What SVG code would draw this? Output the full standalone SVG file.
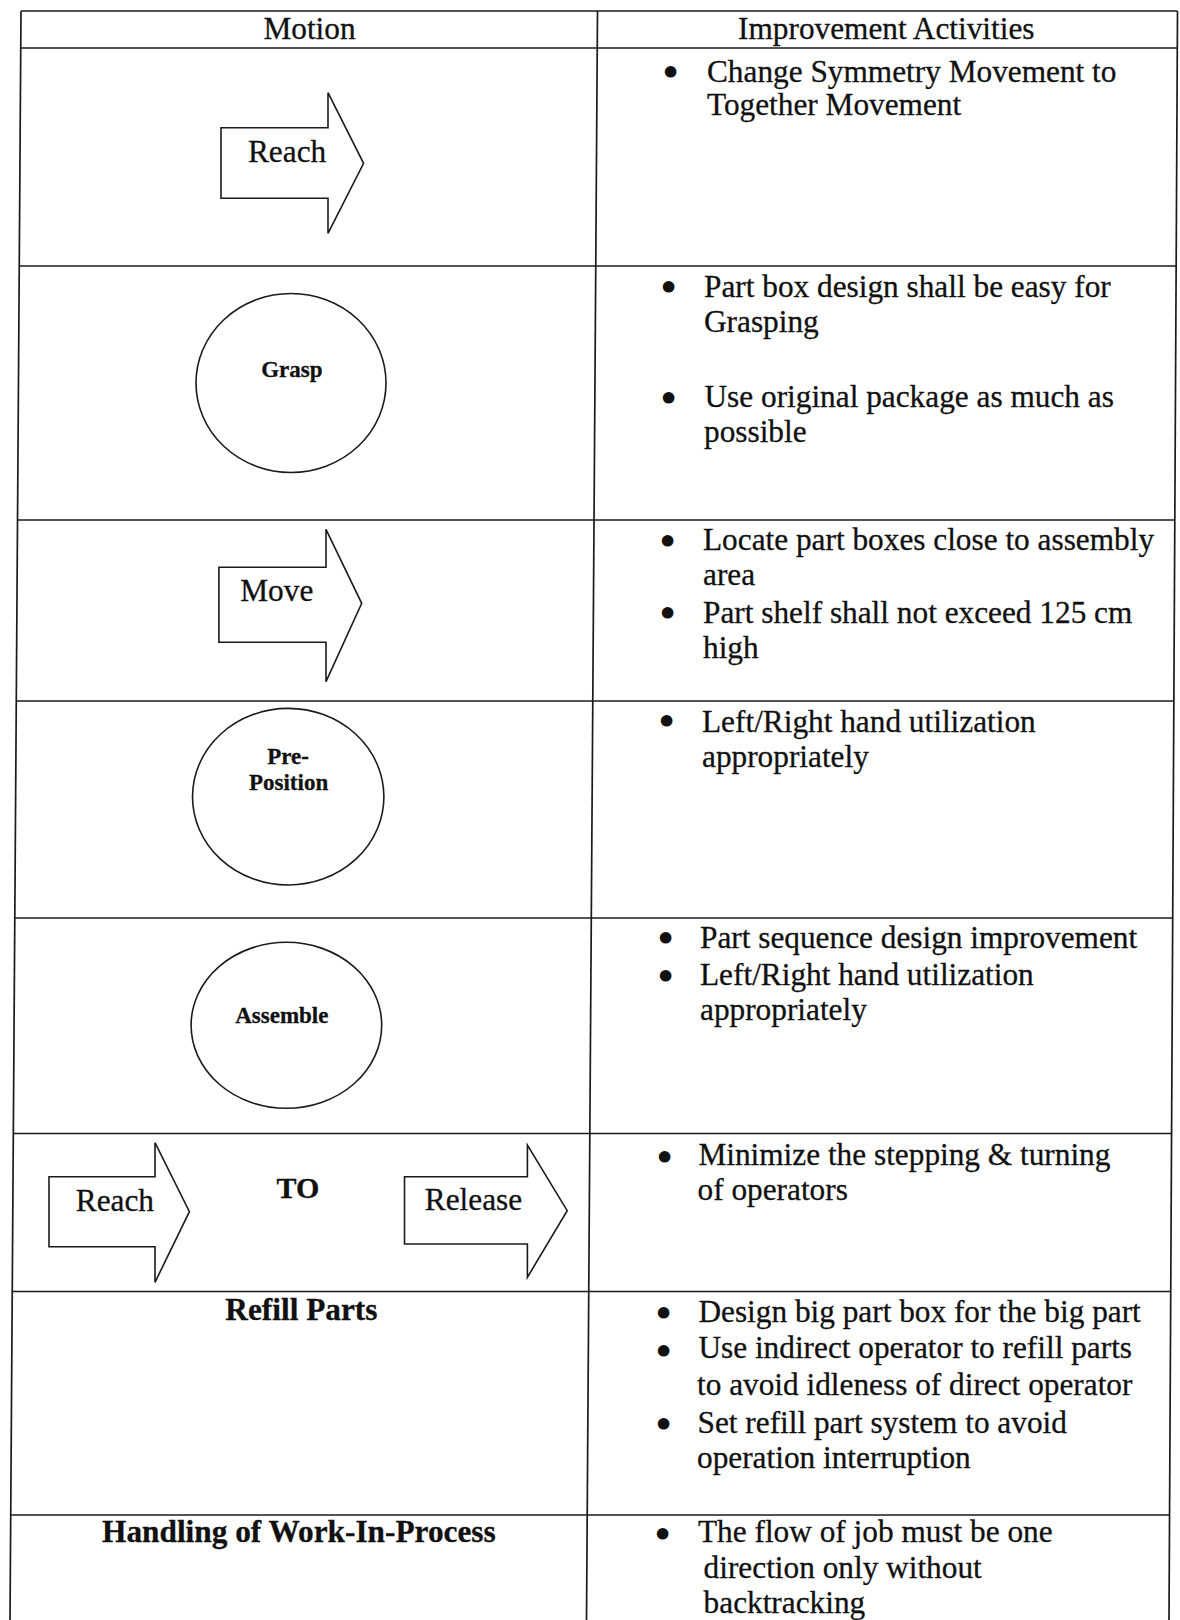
<svg xmlns="http://www.w3.org/2000/svg" width="1180" height="1620" viewBox="0 0 1180 1620">
<style>
.grid{stroke:#1b1b1b;stroke-width:1.7;fill:none}
.shape{fill:#fff;stroke:#1b1b1b;stroke-width:1.6}
.t{font-family:"Liberation Serif","Times New Roman",serif;font-size:31.3px;fill:#111;stroke:#111;stroke-width:0.3}
.b{font-weight:bold}
.s{font-size:23px}
.c{text-anchor:middle}
.bu{font-size:32px;text-anchor:middle;stroke-width:4;stroke-linejoin:round}
</style>
<rect width="1180" height="1620" fill="#fff"/>
<g id="table-grid" class="grid">
  <line x1="21" y1="11" x2="1177.5" y2="11"/>
  <line x1="20.7" y1="48" x2="1177.3" y2="48"/>
  <line x1="19.3" y1="266" x2="1176" y2="266"/>
  <line x1="17.5" y1="520" x2="1174.6" y2="520"/>
  <line x1="16.3" y1="701" x2="1173.6" y2="701"/>
  <line x1="14.8" y1="918" x2="1172.5" y2="918"/>
  <line x1="13.3" y1="1133.5" x2="1171.4" y2="1133.5"/>
  <line x1="12.2" y1="1291.5" x2="1170.5" y2="1291.5"/>
  <line x1="10.7" y1="1515" x2="1169.6" y2="1515"/>
  <line x1="21" y1="11" x2="10" y2="1620"/>
  <line x1="597.5" y1="11" x2="586.5" y2="1620"/>
  <line x1="1177.5" y1="11" x2="1169" y2="1620"/>
</g>
<g id="connectors"></g>
<g id="header">
  <text class="t c" x="309.5" y="39">Motion</text>
  <text class="t c" x="886.3" y="39">Improvement Activities</text>
</g>
<g id="row-reach">
  <polygon class="shape" points="221,127.7 328,127.7 328,92.7 363.6,163.3 328,233.3 328,198.3 221,198.3"/>
  <text class="t" x="248" y="162.3">Reach</text>
  <text class="t bu" x="670.5" y="82.6">•</text>
  <text class="t" x="707" y="81.7">Change Symmetry Movement to</text>
  <text class="t" x="707" y="115">Together Movement</text>
</g>
<g id="row-grasp">
  <ellipse class="shape" cx="291" cy="383" rx="95" ry="89.5"/>
  <text class="t b s c" x="291.8" y="376.7">Grasp</text>
  <text class="t bu" x="668.5" y="297.9">•</text>
  <text class="t" x="704" y="296.7">Part box design shall be easy for</text>
  <text class="t" x="704" y="331.7">Grasping</text>
  <text class="t bu" x="668.5" y="408.6">•</text>
  <text class="t" x="704.5" y="406.7">Use original package as much as</text>
  <text class="t" x="704" y="441.7">possible</text>
</g>
<g id="row-move">
  <polygon class="shape" points="218.9,567.3 326,567.3 326,529.3 361.7,603.3 326,681.7 326,642.3 218.9,642.3"/>
  <text class="t" x="240.3" y="600.7">Move</text>
  <text class="t bu" x="667.5" y="551.9">•</text>
  <text class="t" x="703" y="550">Locate part boxes close to assembly</text>
  <text class="t" x="703" y="585">area</text>
  <text class="t bu" x="667.5" y="623.6">•</text>
  <text class="t" x="703" y="623.3">Part shelf shall not exceed 125 cm</text>
  <text class="t" x="703" y="658.3">high</text>
</g>
<g id="row-preposition">
  <ellipse class="shape" cx="288.2" cy="796.7" rx="95.7" ry="88.3"/>
  <text class="t b s c" x="288" y="764">Pre-</text>
  <text class="t b s c" x="288.6" y="790">Position</text>
  <text class="t bu" x="666.5" y="731.9">•</text>
  <text class="t" x="702" y="731.7">Left/Right hand utilization</text>
  <text class="t" x="702" y="766.7">appropriately</text>
</g>
<g id="row-assemble">
  <ellipse class="shape" cx="286.4" cy="1025.3" rx="95.3" ry="83"/>
  <text class="t b s c" x="281.8" y="1023.3">Assemble</text>
  <text class="t bu" x="665.5" y="948.6">•</text>
  <text class="t" x="700" y="948.3">Part sequence design improvement</text>
  <text class="t bu" x="665.5" y="986.9">•</text>
  <text class="t" x="700" y="985">Left/Right hand utilization</text>
  <text class="t" x="700" y="1020">appropriately</text>
</g>
<g id="row-reach-to-release">
  <polygon class="shape" points="49,1176.7 155,1176.7 155,1142.7 189.4,1211.7 155,1282.3 155,1246.7 49,1246.7"/>
  <text class="t" x="75.8" y="1210.7">Reach</text>
  <text class="t b c" x="298" y="1198.3" style="font-size:30px">TO</text>
  <polygon class="shape" points="404.5,1176.7 527.4,1176.7 527.4,1145 567.2,1210.7 527.4,1277.3 527.4,1244 404.5,1244"/>
  <text class="t" x="424.8" y="1210">Release</text>
  <text class="t bu" x="664.5" y="1167.9">•</text>
  <text class="t" x="698.4" y="1165">Minimize the stepping &amp; turning</text>
  <text class="t" x="697.5" y="1200">of operators</text>
</g>
<g id="row-refill">
  <text class="t b c" x="301.4" y="1320">Refill Parts</text>
  <text class="t bu" x="663.5" y="1323.6">•</text>
  <text class="t" x="698.4" y="1321.7">Design big part box for the big part</text>
  <text class="t bu" x="663.5" y="1361.9">•</text>
  <text class="t" x="698.4" y="1358.3">Use indirect operator to refill parts</text>
  <text class="t" x="697" y="1395">to avoid idleness of direct operator</text>
  <text class="t bu" x="663.5" y="1435.3">•</text>
  <text class="t" x="697.5" y="1433.3">Set refill part system to avoid</text>
  <text class="t" x="697" y="1468.3">operation interruption</text>
</g>
<g id="row-wip">
  <text class="t b c" x="298.9" y="1541.7">Handling of Work-In-Process</text>
  <text class="t bu" x="662.5" y="1545.3">•</text>
  <text class="t" x="698" y="1541.7">The flow of job must be one</text>
  <text class="t" x="703.6" y="1578.3">direction only without</text>
  <text class="t" x="703.6" y="1613.3">backtracking</text>
</g>
</svg>
